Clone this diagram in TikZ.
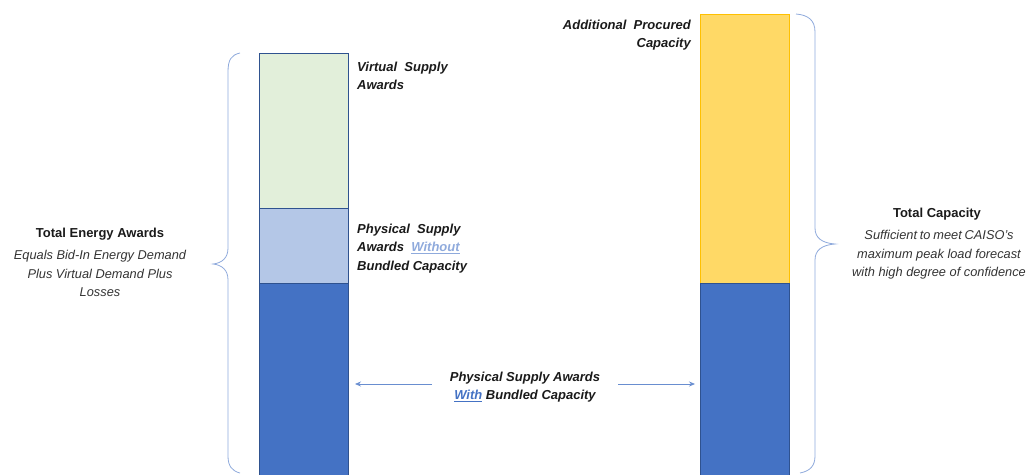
\documentclass[tikz,border=0pt]{standalone}
\usepackage{fontspec}
\setmainfont{Liberation Sans}
\usetikzlibrary{arrows.meta}
\definecolor{vgreen}{HTML}{E2EFDA}
\definecolor{lblue}{HTML}{B4C7E7}
\definecolor{dblue}{HTML}{4472C4}
\definecolor{bedge}{HTML}{2F528F}
\definecolor{yfill}{HTML}{FFD966}
\definecolor{yedge}{HTML}{FFC000}
\definecolor{brc}{HTML}{8FAADC}
\definecolor{txt}{HTML}{1A1A1A}
\definecolor{itx}{HTML}{333333}
\tikzset{
  bar/.style={draw=bedge, line width=0.7pt, minimum width=89pt, inner sep=0pt, outer sep=0pt},
  lbl/.style={font=\fontsize{13}{18.3}\selectfont\bfseries\itshape, text=txt, inner sep=0pt},
  ttl/.style={font=\fontsize{13}{18.5}\selectfont\bfseries, text=txt, inner sep=0pt},
  desc/.style={font=\fontsize{12.8}{18.7}\selectfont\itshape, text=itx, inner sep=0pt, align=center},
  brace/.style={draw=brc, line width=0.8pt},
  arr/.style={draw=dblue!80, line width=0.8pt, -{Stealth[length=6pt,width=5pt]}}
}
\begin{document}
\begin{tikzpicture}[x=1pt,y=-1pt]
\useasboundingbox (0,0) rectangle (1027,474);
% left bar
\node[bar, fill=vgreen, minimum height=155pt] (virt) at (303.5,130.5) {};
\node[bar, fill=lblue, minimum height=75pt] (phys) at (303.5,245.5) {};
\node[bar, fill=dblue, minimum height=192pt] (wlb) at (303.5,379) {};
% right bar
\node[bar, fill=yfill, draw=yedge, minimum height=269pt] (addc) at (744.5,148.5) {};
\node[bar, fill=dblue, minimum height=192pt] (wrb) at (744.5,379) {};
% labels
\node[lbl, anchor=north west, align=left] (vlab) at (357,62) {Virtual \ Supply\\Awards};
\node[lbl, anchor=north west, align=left] (plab) at (357,224) {Physical \ Supply\\Awards \ \textcolor{brc}{\underline{Without}}\\Bundled Capacity};
\node[lbl, anchor=north east, align=right] (alab) at (691,20) {Additional \ Procured\\Capacity};
\node[lbl, align=center] (wlab) at (525,387) {Physical Supply Awards\\\textcolor{dblue}{\underline{With}} Bundled Capacity};
% titles
\node[ttl] (tea) at (100,234) {Total Energy Awards};
\node[desc, anchor=north] (tead) at (100,250) {Equals Bid-In Energy Demand\\Plus Virtual Demand Plus\\Losses};
\node[ttl] (tc) at (937,214) {Total Capacity};
\node[desc, anchor=north] (tcd) at (939,230) {\spaceskip=0.22em plus 0.05em minus 0.05em Sufficient to meet CAISO’s\\maximum peak load forecast\\with high degree of confidence};
% arrows
\draw[arr] (432,384) coordinate (la) -- (355,384) coordinate (lb);
\draw[arr] (618,384) coordinate (ra) -- (695,384) coordinate (rb);
% braces
\draw[brace] (240,53) .. controls (231,55) and (228,60) .. (228,72) -- (228,248)
  .. controls (228,258) and (222,263) .. (213,264)
  .. controls (222,265) and (228,270) .. (228,280) -- (228,456)
  .. controls (228,466) and (232,471) .. (240,473);
\draw[brace] (796,14) .. controls (808,15) and (815,20) .. (815,32) -- (815,228)
  .. controls (815,238) and (822,243) .. (835,244)
  .. controls (822,245) and (815,250) .. (815,260) -- (815,456)
  .. controls (815,466) and (810,471) .. (800,473);
\end{tikzpicture}
\end{document}
